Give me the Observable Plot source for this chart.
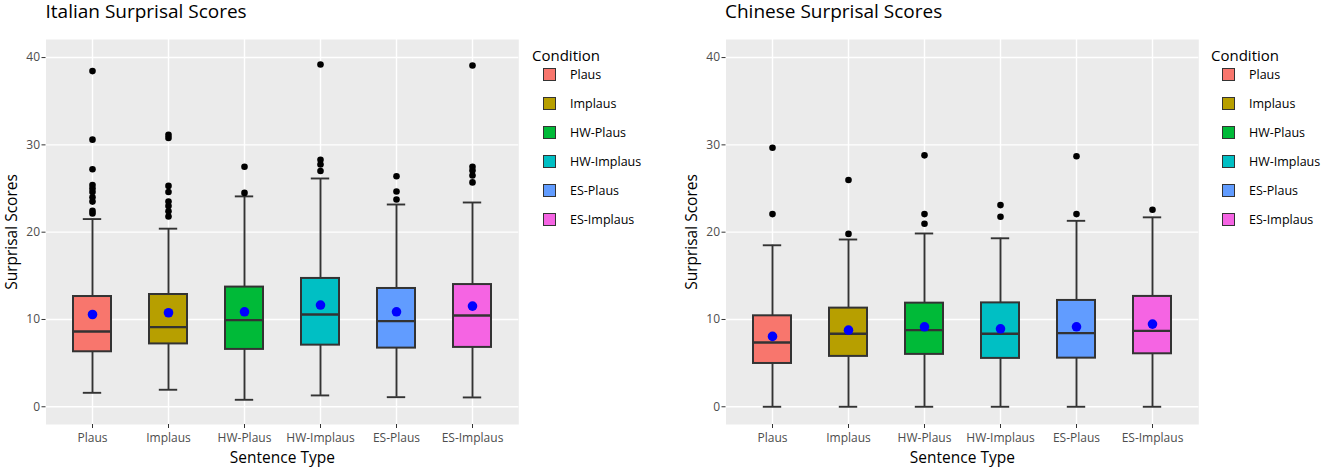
<!DOCTYPE html>
<html>
<head>
<meta charset="utf-8">
<script src="https://cdn.jsdelivr.net/npm/d3@7"></script>
<script src="https://cdn.jsdelivr.net/npm/@observablehq/plot@0.6"></script>
<style>
  html, body { margin: 0; padding: 0; background: #fff; }
  body { width: 1325px; height: 469px; position: relative; overflow: hidden; font-family: "Open Sans", sans-serif; }
  .panel { position: absolute; top: 0; }
  .title { position: absolute; top: -2px; font-size: 19px; line-height: 26px; color: #000; white-space: nowrap; }
  .legend { position: absolute; top: 0; }
  .legend .lt { position: absolute; font-size: 15px; line-height: 20px; white-space: nowrap; color: #000; }
  .legend .key { position: absolute; width: 11px; height: 11px; border: 1.5px solid #333; }
  .legend .lab { position: absolute; font-size: 12.5px; line-height: 16px; white-space: nowrap; color: #000; }
</style>
</head>
<body>
<script>
const categories = ["Plaus", "Implaus", "HW-Plaus", "HW-Implaus", "ES-Plaus", "ES-Implaus"];
const colors = ["#F8766D", "#B79F00", "#00BA38", "#00BFC4", "#619CFF", "#F564E3"];
const yTicks = [0, 10, 20, 30, 40];

// Italian
const itLow  = [1.6, 1.95, 0.8, 1.3, 1.1, 1.07];
const itQ1   = [6.3, 7.2, 6.57, 7.06, 6.72, 6.8];
const itMed  = [8.62, 9.12, 9.93, 10.57, 9.81, 10.46];
const itQ3   = [12.63, 12.86, 13.71, 14.7, 13.55, 14.0];
const itHigh = [21.5, 20.4, 24.1, 26.15, 23.17, 23.4];
const itMean = [10.57, 10.77, 10.88, 11.65, 10.88, 11.53];
const itOut  = [
  [38.45, 30.6, 27.2, 25.4, 25.0, 24.6, 24.0, 23.5, 22.45, 22.15],
  [31.16, 30.8, 25.3, 24.6, 23.5, 23.0, 22.4, 21.8],
  [27.5, 24.5],
  [39.2, 28.3, 27.75, 27.0],
  [26.4, 24.66, 23.75],
  [39.1, 27.5, 27.07, 26.5, 25.7]
];

// Chinese
const cnLow  = [0, 0, 0, 0, 0, 0];
const cnQ1   = [4.96, 5.77, 6.0, 5.54, 5.57, 6.07];
const cnMed  = [7.37, 8.37, 8.78, 8.37, 8.44, 8.7];
const cnQ3   = [10.42, 11.3, 11.87, 11.9, 12.18, 12.64];
const cnHigh = [18.5, 19.16, 19.85, 19.3, 21.3, 21.7];
const cnMean = [8.06, 8.78, 9.16, 8.93, 9.16, 9.47];
const cnOut  = [
  [29.67, 22.07],
  [25.97, 19.8],
  [28.8, 22.07, 20.96],
  [23.1, 21.76],
  [28.7, 22.07],
  [22.57]
];

const FONT = "'Open Sans', sans-serif";

function makeRows(low, q1, med, q3, high, mean) {
  return categories.map((c, i) => ({cat: c, low: low[i], q1: q1[i], med: med[i], q3: q3[i], high: high[i], mean: mean[i]}));
}
function makeOut(out) {
  return out.flatMap((vals, i) => vals.map(v => ({cat: categories[i], v})));
}

function panel(rows, outs) {
  const ink = "#333333";
  return Plot.plot({
    width: 525,
    height: 469,
    marginLeft: 45.5,
    marginRight: 6.7,
    marginTop: 39,
    marginBottom: 45,
    style: {fontFamily: FONT, fontSize: "12px", background: "transparent", overflow: "visible"},
    x: {domain: categories, paddingInner: 0.5, paddingOuter: 0.35},
    y: {domain: [-2.03, 42.07]},
    color: {domain: categories, range: colors},
    marks: [
      Plot.frame({fill: "#EBEBEB", stroke: null}),
      Plot.gridY(yTicks, {stroke: "white", strokeOpacity: 1, strokeWidth: 1.4}),
      Plot.gridX(categories, {stroke: "white", strokeOpacity: 1, strokeWidth: 1.4}),
      Plot.axisY(yTicks, {tickSize: 4, tickPadding: 2, stroke: ink, fill: "#4D4D4D", label: null}),
      Plot.axisX({tickSize: 4, tickPadding: 5, stroke: ink, fill: "#4D4D4D", label: null}),
      Plot.text(["Surprisal Scores"], {frameAnchor: "left", dx: -33.5, rotate: -90, textAnchor: "middle", lineAnchor: "middle", fontSize: 15.5, fill: "black"}),
      Plot.text(["Sentence Type"], {frameAnchor: "bottom", dy: 34, textAnchor: "middle", lineAnchor: "middle", fontSize: 15.5, fill: "black"}),
      Plot.ruleX(rows, {x: "cat", y1: "low", y2: "q1", stroke: ink, strokeWidth: 1.9}),
      Plot.ruleX(rows, {x: "cat", y1: "q3", y2: "high", stroke: ink, strokeWidth: 1.9}),
      Plot.tickY(rows, {x: "cat", y: "low", insetLeft: 9.8, insetRight: 9.8, stroke: ink, strokeWidth: 1.9}),
      Plot.tickY(rows, {x: "cat", y: "high", insetLeft: 9.8, insetRight: 9.8, stroke: ink, strokeWidth: 1.9}),
      Plot.barY(rows, {x: "cat", y1: "q1", y2: "q3", fill: "cat", stroke: ink, strokeWidth: 2}),
      Plot.tickY(rows, {x: "cat", y: "med", stroke: ink, strokeWidth: 2.4}),
      Plot.dot(outs, {x: "cat", y: "v", r: 3.3, fill: "black", stroke: null}),
      Plot.dot(rows, {x: "cat", y: "mean", r: 4.8, fill: "blue", stroke: null})
    ]
  });
}

function addPanel(left, title, rows, outs, legendLeft) {
  const wrap = document.createElement("div");
  wrap.className = "panel";
  wrap.style.left = left + "px";
  wrap.appendChild(panel(rows, outs));
  document.body.appendChild(wrap);

  const t = document.createElement("div");
  t.className = "title";
  t.style.left = (left + 45.5) + "px";
  t.textContent = title;
  document.body.appendChild(t);

  const lg = document.createElement("div");
  lg.className = "legend";
  lg.style.left = legendLeft + "px";
  const lt = document.createElement("div");
  lt.className = "lt";
  lt.style.left = "0px";
  lt.style.top = (54.5 - 10) + "px";
  lt.textContent = "Condition";
  lg.appendChild(lt);
  categories.forEach((c, i) => {
    const cy = 75 + i * 29;
    const k = document.createElement("div");
    k.className = "key";
    k.style.left = "10.5px";
    k.style.top = (cy - 7) + "px";
    k.style.background = colors[i];
    lg.appendChild(k);
    const l = document.createElement("div");
    l.className = "lab";
    l.style.left = "38px";
    l.style.top = (cy - 8) + "px";
    l.textContent = c;
    lg.appendChild(l);
  });
  document.body.appendChild(lg);
}

addPanel(0, "Italian Surprisal Scores",
  makeRows(itLow, itQ1, itMed, itQ3, itHigh, itMean), makeOut(itOut), 532);
addPanel(679.5, "Chinese Surprisal Scores",
  makeRows(cnLow, cnQ1, cnMed, cnQ3, cnHigh, cnMean), makeOut(cnOut), 1211);
</script>
</body>
</html>
